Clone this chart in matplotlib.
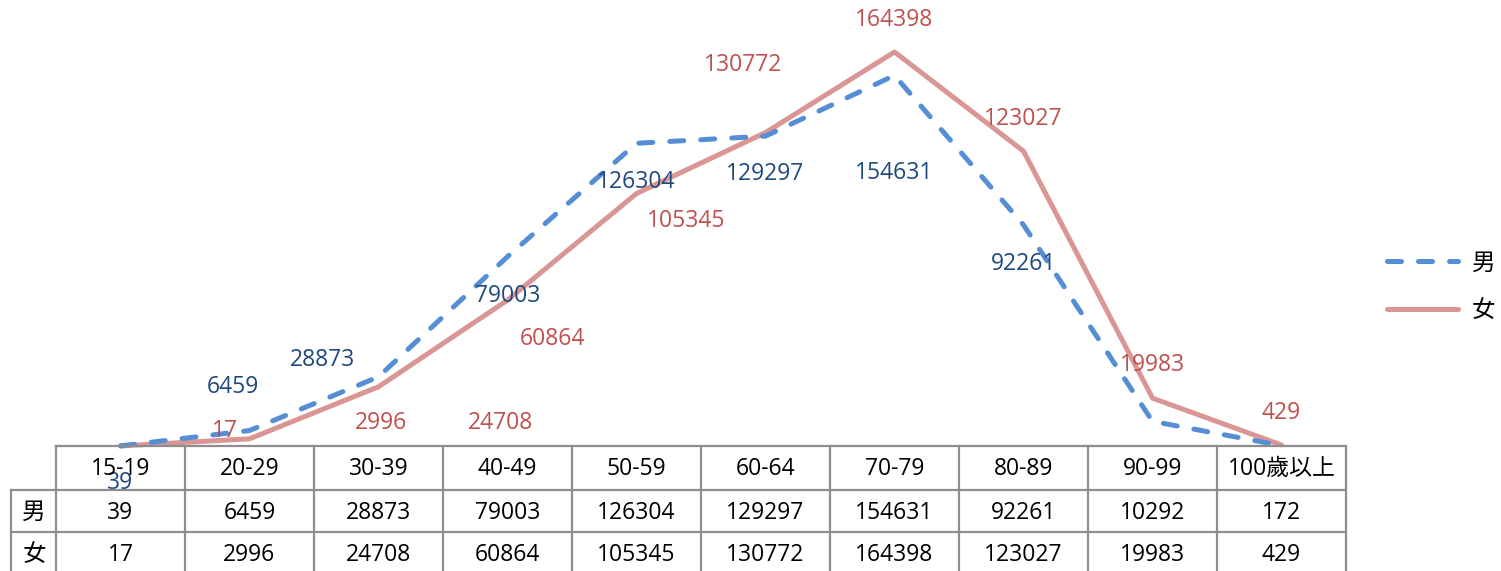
import matplotlib
matplotlib.use("Agg")
import matplotlib.pyplot as plt
from matplotlib.lines import Line2D
import matplotlib.transforms as mtransforms

plt.rcParams['font.family'] = ['Open Sans', 'Noto Sans CJK TC', 'DejaVu Sans']

categories = ["15-19", "20-29", "30-39", "40-49", "50-59", "60-64", "70-79", "80-89", "90-99", "100歲以上"]
male = [39, 6459, 28873, 79003, 126304, 129297, 154631, 92261, 10292, 172]
female = [17, 2996, 24708, 60864, 105345, 130772, 164398, 123027, 19983, 429]
series_names = ["男", "女"]

# label offsets (pixels) mimicking the reference's displaced data labels
male_off = [(0, -37), (-17, 44), (-56, 17), (0, -39), (0, -39), (0, -38), (0, -98), (0, -39), None, None]
female_off = [(104, 15), (132, 16), (122, -36), (45, -39), (50, -27), (-22, 68), (0, 32), (0, 32), (0, 33), (0, 32)]

W, H = 1501, 571
fig = plt.figure(figsize=(W / 100, H / 100), dpi=100)

def fx(px):
    return px / W

def fy(py):
    return 1 - py / H

ax_top = 14.6
ax_bot = 446
ax = fig.add_axes([fx(56), fy(ax_bot), fx(1346) - fx(56), (ax_bot - ax_top) / H])
ax.set_xlim(-0.5, len(categories) - 0.5)
ax.set_ylim(0, 180000)
ax.axis('off')

x = list(range(len(categories)))
male_c = '#558ED5'
female_c = '#D99694'
ax.plot(x, male, color=male_c, lw=3.6, dashes=(2.8, 3.4), dash_capstyle='round',
        solid_capstyle='round', label=series_names[0], zorder=3, clip_on=False)
ax.plot(x, female, color=female_c, lw=3.6, solid_capstyle='round',
        label=series_names[1], zorder=2, clip_on=False)

fs = 16.5
for i, v in enumerate(male):
    if male_off[i] is None:
        continue
    ax.annotate(str(v), (i, v), xytext=male_off[i], textcoords='offset pixels',
                ha='center', va='center', color='#1F497D', fontsize=fs, zorder=5,
                annotation_clip=False)
for i, v in enumerate(female):
    if female_off[i] is None:
        continue
    ax.annotate(str(v), (i, v), xytext=female_off[i], textcoords='offset pixels',
                ha='center', va='center', color='#C0504D', fontsize=fs, zorder=5,
                annotation_clip=False)

# data table below
tr = mtransforms.blended_transform_factory(ax.transData, fig.transFigure)
gc = '#8E8E8E'
glw = 1.6
row_y = [446, 490, 532, 575]
n = len(categories)
fig.add_artist(Line2D([-0.5, n - 0.5], [fy(row_y[0])] * 2, transform=tr, color=gc, lw=glw))
for ry in row_y[1:3]:
    fig.add_artist(Line2D([fx(11), fx(1346)], [fy(ry)] * 2, color=gc, lw=glw))
for i in range(n + 1):
    fig.add_artist(Line2D([i - 0.5, i - 0.5], [fy(row_y[0]), fy(row_y[3])], transform=tr, color=gc, lw=glw))
fig.add_artist(Line2D([fx(11), fx(11)], [fy(row_y[1]), fy(row_y[3])], color=gc, lw=glw))

for i, c in enumerate(categories):
    fig.text(i, fy(469), c, transform=tr, ha='center', va='center', fontsize=fs, color='black')
    fig.text(i, fy(513), str(male[i]), transform=tr, ha='center', va='center', fontsize=fs, color='black')
    fig.text(i, fy(555), str(female[i]), transform=tr, ha='center', va='center', fontsize=fs, color='black')
cjk = ['Noto Sans CJK TC']
fig.text(fx(34), fy(512), series_names[0], ha='center', va='center', fontsize=17,
         color='black', family=cjk, fontweight='light')
fig.text(fx(34), fy(554), series_names[1], ha='center', va='center', fontsize=17,
         color='black', family=cjk, fontweight='light')

leg = fig.legend(loc='center left', bbox_to_anchor=(fx(1387), fy(287)), frameon=False,
                 fontsize=17, handlelength=3.0, handletextpad=0.6, labelspacing=1.05,
                 borderpad=0, borderaxespad=0,
                 prop={'family': cjk, 'weight': 'light', 'size': 17})

fig.savefig('out.png', dpi=100)
